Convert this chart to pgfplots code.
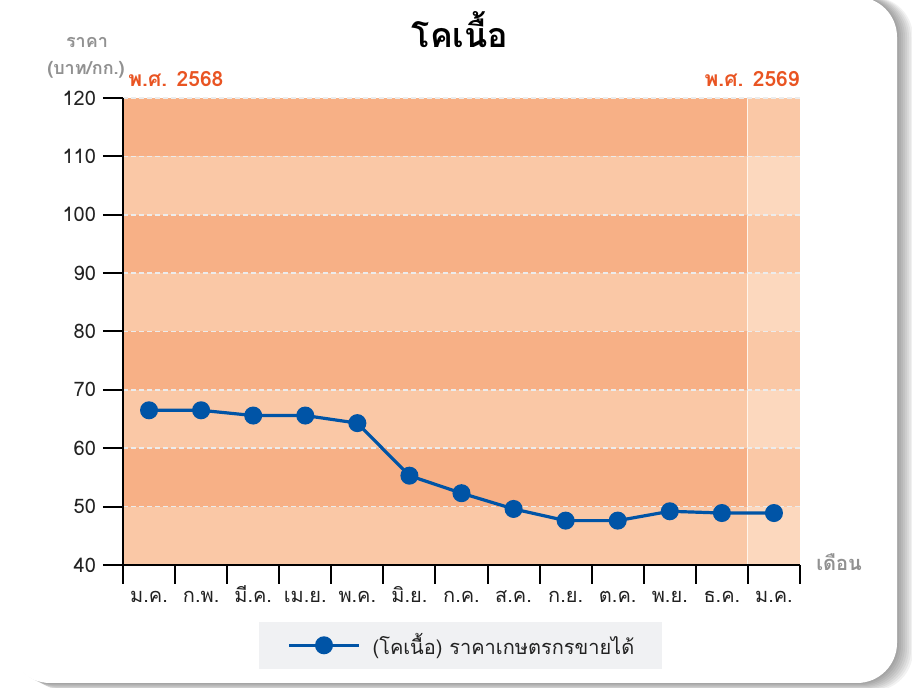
\documentclass[border=0pt]{standalone}
\usepackage{fontspec}
\setmainfont[Script=Thai]{Loma}
\usepackage{pgfplots}
\pgfplotsset{compat=1.18}
\definecolor{bandD}{RGB}{247,176,134}
\definecolor{bandL}{RGB}{250,200,166}
\definecolor{bandLL}{RGB}{252,216,190}
\definecolor{yearorange}{RGB}{233,84,34}
\definecolor{labelgray}{RGB}{145,145,145}
\definecolor{lineblue}{RGB}{0,84,166}
\definecolor{legbg}{RGB}{240,241,243}
\definecolor{txt}{RGB}{34,34,34}

\begin{document}
\begin{tikzpicture}[x=0.5pt,y=0.5pt]
\clip (0,0) rectangle (912,688);
\fill[white] (0,0) rectangle (912,688);
% card shadow
\foreach \k in {2,4,...,16} {
  \fill[black,opacity=0.05,rounded corners=20pt] (10+\k,5-0.5*\k) rectangle (897+\k,691);
}
\fill[white,rounded corners=20pt] (10,5) rectangle (897,691);
% legend box
\fill[legbg] (259,19) rectangle (662,66);

% background bands of the plot area (123..800 x 123..590, 58.375 per 10)
\foreach \i in {0,...,7} {
  \pgfmathsetmacro{\ylo}{123+58.375*\i}
  \pgfmathsetmacro{\yhi}{123+58.375*(\i+1)}
  \ifodd\i
    \fill[bandD] (123,\ylo) rectangle (747.9,\yhi);
    \fill[bandL] (747.9,\ylo) rectangle (800,\yhi);
  \else
    \fill[bandL] (123,\ylo) rectangle (747.9,\yhi);
    \fill[bandLL] (747.9,\ylo) rectangle (800,\yhi);
  \fi
}
\draw[white!92!orange, line width=0.5pt] (747.9,123) -- (747.9,590);

% texts around the axis
\node[anchor=base,font=\fontsize{17}{20}\selectfont\bfseries,text=black] at (460,640) {โคเนื้อ};
\node[anchor=base,font=\fontsize{9}{10}\selectfont\bfseries,text=labelgray] at (87,640) {ราคา};
\node[anchor=base,font=\fontsize{9}{10}\selectfont\bfseries,text=labelgray] at (86,613) {(บาท/กก.)};
\node[anchor=base west,inner sep=0pt,font=\fontsize{10.5}{12}\selectfont\bfseries,text=yearorange] at (128,601) {พ.ศ. 2568};
\node[anchor=base east,inner sep=0pt,font=\fontsize{10.5}{12}\selectfont\bfseries,text=yearorange] at (800,601) {พ.ศ. 2569};
\node[anchor=base west,inner sep=0pt,font=\fontsize{10}{12}\selectfont\bfseries,text=labelgray] at (816,117) {เดือน};

\begin{axis}[
    at={(61.5pt,61.5pt)}, anchor=south west,
    scale only axis, width=338.5pt, height=233.5pt,
    xmin=-0.5, xmax=12.5, ymin=40, ymax=120,
    axis lines*=left,
    axis line style={line width=1pt, black},
    xtick={0,...,12},
    xticklabels={ม.ค.,ก.พ.,มี.ค.,เม.ย.,พ.ค.,มิ.ย.,ก.ค.,ส.ค.,ก.ย.,ต.ค.,พ.ย.,ธ.ค.,ม.ค.},
    major x tick style={draw=none},
    minor xtick={-0.5,0.5,...,12.5},
    minor tick length=9.5pt,
    minor x tick style={black, line width=1pt},
    ytick={40,50,...,120},
    tick align=outside,
    major tick length=10pt,
    y tick style={black, line width=1pt},
    ymajorgrids,
    major grid style={draw=white!85!gray, line width=0.8pt, dash pattern=on 2.5pt off 1.5pt},
    tick label style={font=\fontsize{10}{12}\selectfont, text=txt},
    xticklabel style={text height=7pt, text depth=2pt, yshift=2pt},
    /pgf/number format/assume math mode=true,
    legend style={at={(0.502,-0.172)}, anchor=center, draw=none, fill=none,
                  font=\fontsize{10}{12}\selectfont, text=txt},
    legend cell align=left,
    legend image code/.code={
        \draw[#1, mark repeat=2, mark phase=2] plot coordinates {(0pt,0pt) (17.5pt,0pt) (35pt,0pt)};
    },
]
\addplot[color=lineblue, line width=1.6pt, mark=*, mark size=3.7pt, mark options={solid}]
    coordinates {(0,66.5) (1,66.5) (2,65.6) (3,65.6) (4,64.3) (5,55.3) (6,52.3)
                 (7,49.6) (8,47.6) (9,47.6) (10,49.2) (11,48.9) (12,48.9)};
\addlegendentry{\hspace{4pt}(โคเนื้อ) ราคาเกษตรกรขายได้}
\end{axis}
\end{tikzpicture}
\end{document}
